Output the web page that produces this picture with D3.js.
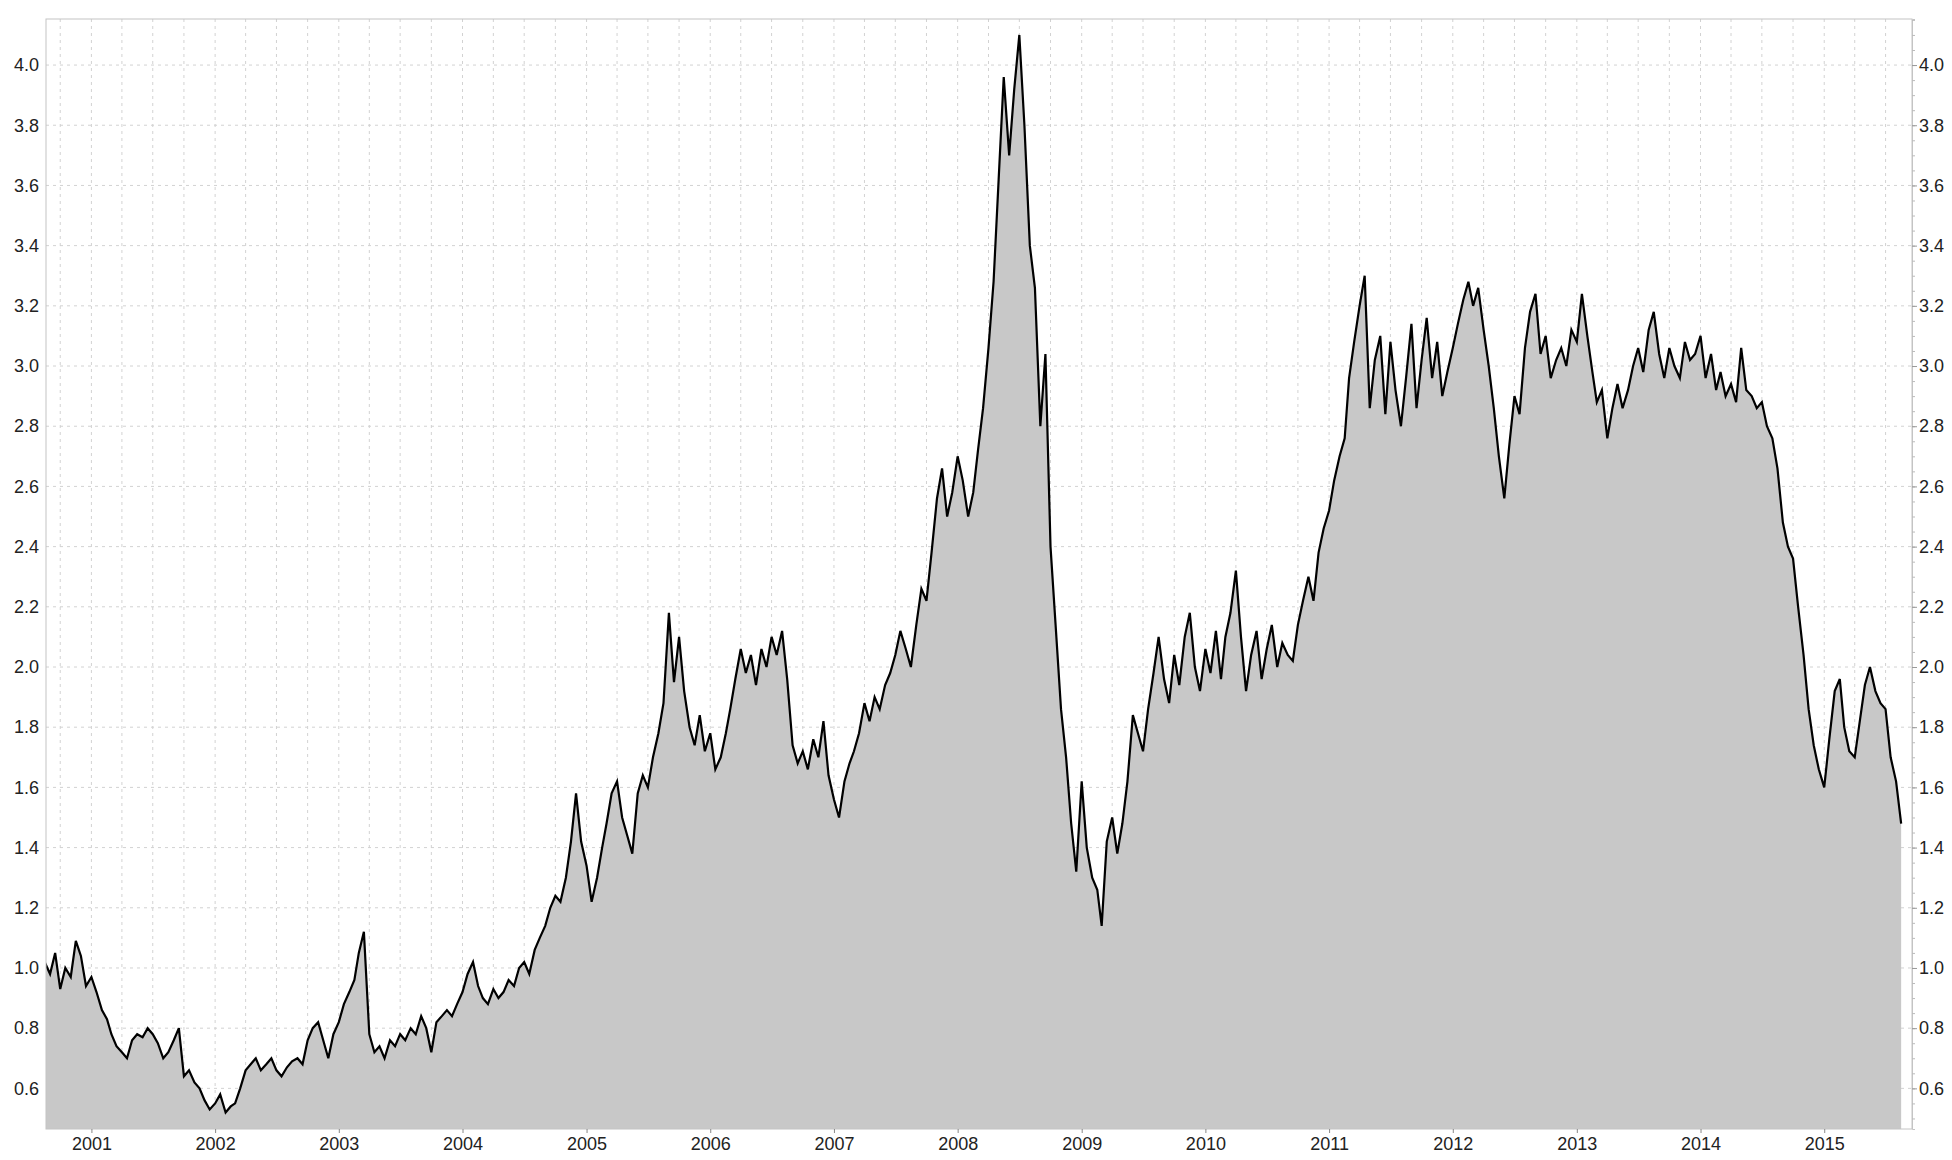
<!DOCTYPE html>
<html>
<head>
<meta charset="utf-8">
<script src="https://cdn.jsdelivr.net/npm/d3@7"></script>
<style>
  body { margin: 0; background: #fff; }
  text { font-family: "Liberation Sans", Arial, sans-serif; }
</style>
</head>
<body>
<svg id="chart" width="1952" height="1160"></svg>
<script>
// half-monthly values (1st and 16th of each month), Aug 2000 .. Aug 2015
var v2000 = [0.95,1.02,0.98,1.05,0.93,1.00,0.97,1.09,1.04,0.94];
var v2001 = [0.97,0.92,0.86,0.83,0.78,0.74,0.72,0.70,0.76,0.78,0.77,0.80,0.78,0.75,0.70,0.72,0.76,0.80,0.64,0.66,0.62,0.60,0.56,0.53];
var v2002 = [0.55,0.58,0.52,0.54,0.55,0.60,0.66,0.68,0.70,0.66,0.68,0.70,0.66,0.64,0.67,0.69,0.70,0.68,0.76,0.80,0.82,0.76,0.70,0.78];
var v2003 = [0.82,0.88,0.92,0.96,1.05,1.12,0.78,0.72,0.74,0.70,0.76,0.74,0.78,0.76,0.80,0.78,0.84,0.80,0.72,0.82,0.84,0.86,0.84,0.88];
var v2004 = [0.92,0.98,1.02,0.94,0.90,0.88,0.93,0.90,0.92,0.96,0.94,1.00,1.02,0.98,1.06,1.10,1.14,1.20,1.24,1.22,1.30,1.42,1.58,1.42];
var v2005 = [1.34,1.22,1.30,1.40,1.48,1.58,1.62,1.50,1.44,1.38,1.58,1.64,1.60,1.70,1.78,1.88,2.18,1.95,2.10,1.92,1.80,1.74,1.84,1.72];
var v2006 = [1.78,1.66,1.70,1.78,1.86,1.96,2.06,1.98,2.04,1.94,2.06,2.00,2.10,2.04,2.12,1.96,1.74,1.68,1.72,1.66,1.76,1.70,1.82,1.64];
var v2007 = [1.56,1.50,1.62,1.68,1.72,1.78,1.88,1.82,1.90,1.86,1.94,1.98,2.04,2.12,2.06,2.00,2.14,2.26,2.22,2.38,2.56,2.66,2.50,2.58];
var v2008 = [2.70,2.62,2.50,2.58,2.72,2.86,3.06,3.28,3.62,3.96,3.70,3.92,4.10,3.80,3.40,3.26,2.80,3.04,2.40,2.14,1.86,1.70,1.48,1.32];
var v2009 = [1.62,1.40,1.30,1.26,1.14,1.42,1.50,1.38,1.48,1.62,1.84,1.78,1.72,1.86,1.98,2.10,1.96,1.88,2.04,1.94,2.10,2.18,2.00,1.92];
var v2010 = [2.06,1.98,2.12,1.96,2.10,2.18,2.32,2.10,1.92,2.04,2.12,1.96,2.06,2.14,2.00,2.08,2.04,2.02,2.14,2.22,2.30,2.22,2.38,2.46];
var v2011 = [2.52,2.62,2.70,2.76,2.96,3.08,3.20,3.30,2.86,3.02,3.10,2.84,3.08,2.92,2.80,2.96,3.14,2.86,3.02,3.16,2.96,3.08,2.90,2.98];
var v2012 = [3.06,3.14,3.22,3.28,3.20,3.26,3.12,3.00,2.86,2.70,2.56,2.74,2.90,2.84,3.06,3.18,3.24,3.04,3.10,2.96,3.02,3.06,3.00,3.12];
var v2013 = [3.08,3.24,3.10,2.98,2.88,2.92,2.76,2.86,2.94,2.86,2.92,3.00,3.06,2.98,3.12,3.18,3.04,2.96,3.06,3.00,2.96,3.08,3.02,3.04];
var v2014 = [3.10,2.96,3.04,2.92,2.98,2.90,2.94,2.88,3.06,2.92,2.90,2.86,2.88,2.80,2.76,2.66,2.48,2.40,2.36,2.20,2.04,1.86,1.74,1.66];
var v2015 = [1.60,1.76,1.92,1.96,1.80,1.72,1.70,1.82,1.94,2.00,1.92,1.88,1.86,1.70,1.62,1.48];

var values = [].concat(v2000,v2001,v2002,v2003,v2004,v2005,v2006,v2007,v2008,v2009,v2010,v2011,v2012,v2013,v2014,v2015);
var data = values.map(function (v, i) {
  var m = 7 + Math.floor(i / 2);
  return { date: new Date(2000, m, i % 2 ? 16 : 1), value: v };
});

var yTicks = [0.6,0.8,1.0,1.2,1.4,1.6,1.8,2.0,2.2,2.4,2.6,2.8,3.0,3.2,3.4,3.6,3.8,4.0];
var xStart = new Date(2000, 7, 20), xEnd = new Date(2015, 8, 17);

var mL = 46, mR = 1912, mT = 19, mB = 1129;
var svg = d3.select("#chart");

var x = d3.scaleTime().domain([xStart, xEnd]).range([mL, mR]);
var y = d3.scaleLinear().domain([0.465, 4.153]).range([mB, mT]);

svg.append("clipPath").attr("id", "clip")
  .append("rect").attr("x", mL).attr("y", mT).attr("width", mR - mL).attr("height", mB - mT);

// grid
var quarters = d3.timeMonth.every(3).range(xStart, xEnd);
svg.append("g").selectAll("line").data(quarters).enter().append("line")
  .attr("x1", function (d) { return x(d); }).attr("x2", function (d) { return x(d); })
  .attr("y1", mT).attr("y2", mB)
  .attr("stroke", "#d2d2d2").attr("stroke-dasharray", "3,4");
svg.append("g").selectAll("line").data(yTicks).enter().append("line")
  .attr("x1", mL).attr("x2", mR)
  .attr("y1", function (d) { return y(d); }).attr("y2", function (d) { return y(d); })
  .attr("stroke", "#d2d2d2").attr("stroke-dasharray", "3,4");

// area + line
var area = d3.area().x(function (d) { return x(d.date); }).y0(mB).y1(function (d) { return y(d.value); });
var line = d3.line().x(function (d) { return x(d.date); }).y(function (d) { return y(d.value); });
var g = svg.append("g").attr("clip-path", "url(#clip)");
g.append("path").datum(data).attr("d", area).attr("fill", "#c8c8c8");
g.append("path").datum(data).attr("d", line).attr("fill", "none").attr("stroke", "#000").attr("stroke-width", 2.2);

// frame
svg.append("rect").attr("x", mL).attr("y", mT).attr("width", mR - mL).attr("height", mB - mT)
  .attr("fill", "none").attr("stroke", "#c4c4c4");

// right axis, minor ticks every 0.05
var yRight = svg.append("g").attr("transform", "translate(" + mR + ",0)")
  .call(d3.axisRight(y).ticks(70).tickFormat("").tickSize(3));
yRight.select(".domain").attr("stroke", "#c4c4c4");
yRight.selectAll("line").attr("stroke", "#bbb");
var yRightLab = svg.append("g").attr("transform", "translate(" + mR + ",0)")
  .call(d3.axisRight(y).tickValues(yTicks).tickFormat(d3.format(".1f")).tickSize(5).tickPadding(2));
yRightLab.select(".domain").remove();
yRightLab.selectAll("line").attr("stroke", "#999");
yRightLab.selectAll("text").attr("font-size", 18).attr("fill", "#222");

// left axis (labels only)
var yLeft = svg.append("g").attr("transform", "translate(" + mL + ",0)")
  .call(d3.axisLeft(y).tickValues(yTicks).tickFormat(d3.format(".1f")).tickSize(0).tickPadding(7));
yLeft.select(".domain").remove();
yLeft.selectAll("text").attr("font-size", 18).attr("fill", "#222");

// bottom axis
var xAxis = svg.append("g").attr("transform", "translate(0," + mB + ")")
  .call(d3.axisBottom(x).ticks(d3.timeYear.every(1)).tickFormat(d3.timeFormat("%Y")).tickSize(4).tickPadding(4));
xAxis.select(".domain").remove();
xAxis.selectAll("line").attr("stroke", "#888");
xAxis.selectAll("text").attr("font-size", 18).attr("fill", "#222");
</script>
</body>
</html>
